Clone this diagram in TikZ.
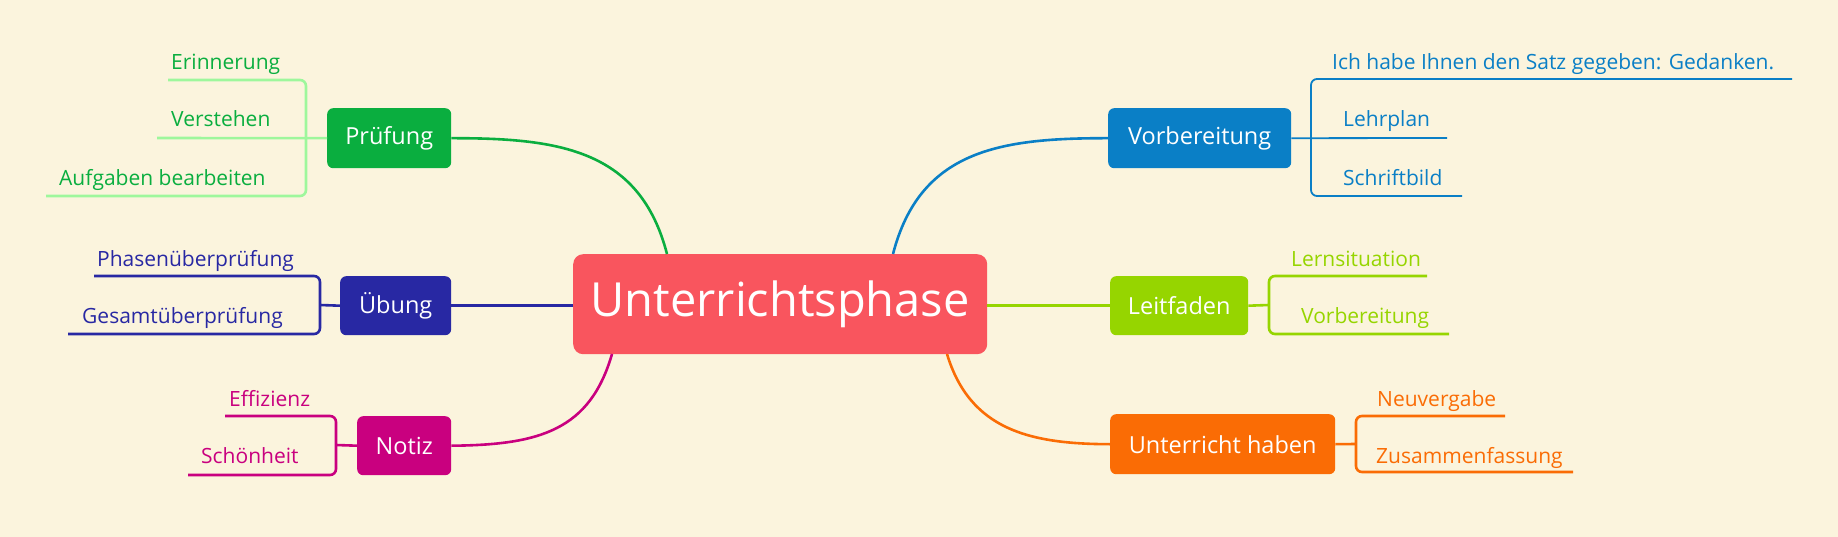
\documentclass[tikz,border=0pt]{standalone}
\usepackage{fontspec}
\setmainfont{Open Sans}
\definecolor{bg}{HTML}{FBF4DD}
\definecolor{cred}{HTML}{F9555E}
\definecolor{cgreen}{HTML}{0AAE3F}
\definecolor{lgreen}{HTML}{9EF79C}
\definecolor{cnavy}{HTML}{2828A3}
\definecolor{cmag}{HTML}{C9007F}
\definecolor{cblue}{HTML}{0A7FC6}
\definecolor{clime}{HTML}{96D500}
\definecolor{corange}{HTML}{FA6C05}
\tikzset{
  topic/.style={fill=#1,text=white,rounded corners=6pt,inner sep=0pt,font=\fontsize{23.5}{26}\selectfont,anchor=north west},
  leaf/.style={text=#1,inner sep=0pt,anchor=base west,font=\fontsize{21}{24}\selectfont},
  link/.style={draw=#1,line width=2.6pt},
  br/.style={draw=#1,line width=2.6pt,rounded corners=6pt},
}
\begin{document}
\begin{tikzpicture}[x=1pt,y=-1pt]
\fill[bg] (0,0) rectangle (1838,537);
\useasboundingbox (0,0) rectangle (1838,537);
% center
\node[topic=cred,minimum width=414pt,minimum height=100pt,rounded corners=10pt,font=\fontsize{47}{50}\selectfont] (c) at (573,254) {Unterrichtsphase};
% topics
\node[topic=cgreen,minimum width=124pt,minimum height=60pt] (p) at (327,108) {Prüfung};
\node[topic=cnavy,minimum width=111pt,minimum height=59pt] (u) at (340,276) {Übung};
\node[topic=cmag,minimum width=94pt,minimum height=59pt] (n) at (357,416) {Notiz};
\node[topic=cblue,minimum width=183pt,minimum height=60pt] (v) at (1108,108) {Vorbereitung};
\node[topic=clime,minimum width=138pt,minimum height=59pt] (l) at (1110,276) {Leitfaden};
\node[topic=corange,minimum width=225pt,minimum height=60pt] (h) at (1110,414) {Unterricht haben};
% main connectors
\coordinate (cp) at (667,254); \coordinate (cv) at (893,254);
\coordinate (cn) at (612,354); \coordinate (ch) at (947,354);
\draw[link=cgreen] (cp) .. controls (640,150) and (560,138) .. (p.east);
\draw[link=cblue] (cv) .. controls (920,150) and (1000,138) .. (v.west);
\draw[link=cnavy] (c.west |- u.east) -- (u.east);
\draw[link=clime] (c.east |- l.west) -- (l.west);
\draw[link=cmag] (cn) .. controls (590,430) and (540,445) .. (n.east);
\draw[link=corange] (ch) .. controls (970,430) and (1030,444) .. (h.west);
% Pruefung leaves
\node[leaf=cgreen] (p1) at (171,70) {Erinnerung};
\node[leaf=cgreen] (p2) at (171,127) {Verstehen};
\node[leaf=cgreen] (p3) at (59,186) {Aufgaben bearbeiten};
\coordinate (p1e) at (168,80); \coordinate (p2e) at (157,138); \coordinate (p3e) at (46,196);
\draw[br=lgreen] (p1e) -- (306,80) -- (306,196) -- (p3e);
\draw[br=lgreen] (p2e) -- (p.west);
% Uebung leaves
\node[leaf=cnavy] (u1) at (97,266) {Phasenüberprüfung};
\node[leaf=cnavy] (u2) at (82,323) {Gesamtüberprüfung};
\coordinate (u1e) at (94,276); \coordinate (u2e) at (68,334);
\draw[br=cnavy] (u1e) -- (320,276) -- (320,334) -- (u2e);
\draw[link=cnavy] (320,305) -- (u.west);
% Notiz leaves
\node[leaf=cmag] (n1) at (229,406) {Effizienz};
\node[leaf=cmag] (n2) at (201,463) {Schönheit};
\coordinate (n1e) at (225,416); \coordinate (n2e) at (188,475);
\draw[br=cmag] (n1e) -- (336,416) -- (336,475) -- (n2e);
\draw[link=cmag] (336,445) -- (n.west);
% Vorbereitung leaves
\node[leaf=cblue] (v1) at (1332,70) {Ich habe Ihnen den Satz gegeben: Gedanken.};
\node[leaf=cblue] (v2) at (1343,127) {Lehrplan};
\node[leaf=cblue] (v3) at (1343,186) {Schriftbild};
\coordinate (v1e) at (1792,79); \coordinate (v2e) at (1447,138); \coordinate (v3e) at (1462,196);
\draw[br=cblue,line width=1.8pt] (v1e) -- (1311,79) -- (1311,196) -- (v3e);
\draw[br=cblue,line width=1.8pt] (v.east) -- (v2e);
% Leitfaden leaves
\node[leaf=clime] (l1) at (1291,266) {Lernsituation};
\node[leaf=clime] (l2) at (1301,323) {Vorbereitung};
\coordinate (l1e) at (1427,276); \coordinate (l2e) at (1449,334);
\draw[br=clime] (l1e) -- (1269,276) -- (1269,334) -- (l2e);
\draw[link=clime] (l.west -| l.east) -- (1269,305);
% Unterricht haben leaves
\node[leaf=corange] (h1) at (1377,406) {Neuvergabe};
\node[leaf=corange] (h2) at (1376,463) {Zusammenfassung};
\coordinate (h1e) at (1505,416); \coordinate (h2e) at (1573,472);
\draw[br=corange] (h1e) -- (1356,416) -- (1356,472) -- (h2e);
\draw[link=corange] (h.east) -- (1356,444);
\end{tikzpicture}
\end{document}
